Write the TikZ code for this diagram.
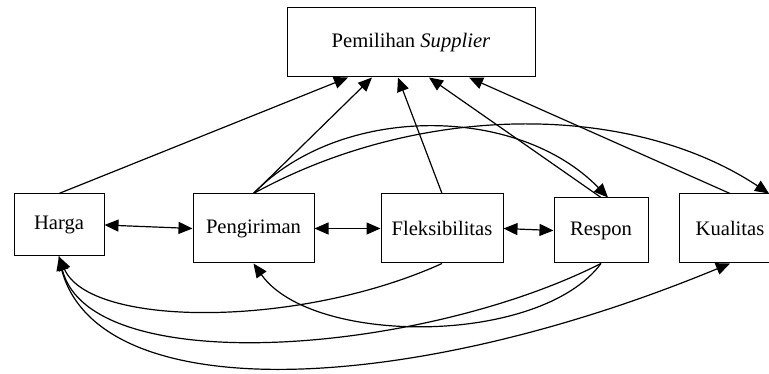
\documentclass[tikz,border=0pt]{standalone}
\usepackage{fontspec}
\setmainfont{Liberation Serif}
\usetikzlibrary{arrows.meta}

\begin{document}
\begin{tikzpicture}[x=1pt,y=-1pt,line width=1.2pt,
    kotak/.style={draw,line width=1pt,inner sep=0pt,font=\fontsize{20.6}{24}\selectfont},
    panah/.style={-{Triangle[length=14pt,width=12pt]}},
    duapanah/.style={{Triangle[length=14pt,width=12pt]}-{Triangle[length=14pt,width=12pt]}}]
            \useasboundingbox (0,0) rectangle (769,374);
            \clip (0,0) rectangle (769,374);
            \node[kotak,minimum width=248pt,minimum height=69pt] (pemilihan) at (411,42.5) {Pemilihan \textit{Supplier}};
            \node[kotak,minimum width=90pt,minimum height=62pt] (harga) at (59,225) {Harga};
            \node[kotak,minimum width=121pt,minimum height=69pt] (pengiriman) at (253.5,228.5) {Pengiriman};
            \node[kotak,minimum width=122pt,minimum height=69pt] (fleksibilitas) at (442,228.5) {Fleksibilitas};
            \node[kotak,minimum width=94pt,minimum height=65pt] (respon) at (601,230.5) {Respon};
            \node[kotak,minimum width=102pt,minimum height=69pt] (kualitas) at (730,228.5) {Kualitas};
            % ke pemilihan supplier
            \draw[panah] (harga.north) -- ([xshift=-63pt]pemilihan.south);
            \draw[panah] (pengiriman.north) -- ([xshift=-39pt]pemilihan.south);
            \draw[panah] (fleksibilitas.north) -- ([xshift=-13pt]pemilihan.south);
            \draw[panah] (respon.north) -- ([xshift=18pt]pemilihan.south);
            \draw[panah] (kualitas.north) -- ([xshift=58pt]pemilihan.south);
            % hubungan dua arah
            \draw[duapanah] (harga.east) -- (pengiriman.west);
            \draw[duapanah] (pengiriman.east) -- (fleksibilitas.west);
            \draw[duapanah] (fleksibilitas.east) -- (respon.west);
            % lengkung atas
            \draw[panah] (pengiriman.north) .. controls (340,104) and (517,104) .. ([xshift=7pt]respon.north);
            \draw[panah] (pengiriman.north) .. controls (420,102) and (631,102) .. ([xshift=39pt]kualitas.north);
            % lengkung bawah
            \draw[panah] (fleksibilitas.south) .. controls (300,328) and (90,328) .. (harga.south);
            \draw[panah] (respon.south) .. controls (420,355) and (90,380) .. (harga.south);
            \draw[panah] (respon.south) .. controls (540,346) and (312,346) .. (pengiriman.south);
            \draw[panah] (harga.south) .. controls (80,410) and (400,400) .. (kualitas.south);
        \end{tikzpicture}
\end{document}
